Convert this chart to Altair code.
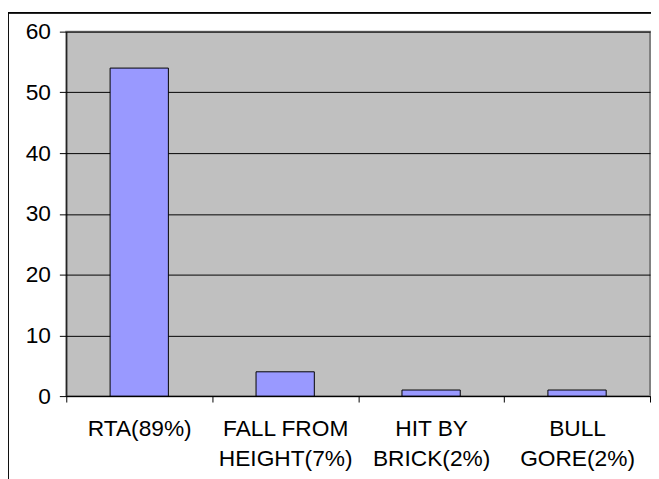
import altair as alt
import pandas as pd

categories = ["RTA(89%)", "FALL FROM|HEIGHT(7%)", "HIT BY|BRICK(2%)", "BULL|GORE(2%)"]
values = [54, 4, 1, 1]
y_ticks = [0, 10, 20, 30, 40, 50, 60]

df = pd.DataFrame({"cat": categories, "val": values})

FONT = "Liberation Sans"

bars = alt.Chart(df).mark_bar(
    size=59, fill="#9999FF", stroke="black", strokeWidth=1
).encode(
    x=alt.X("cat:N", sort=categories,
            scale=alt.Scale(paddingInner=0, paddingOuter=0),
            axis=alt.Axis(title=None, labelAngle=0, tickBand="extent",
                          labelExpr="split(datum.label, '|')",
                          labelFont=FONT, labelFontSize=23, labelColor="black",
                          labelLineHeight=30, labelPadding=16, labelBaseline="top",
                          domainColor="black", tickColor="black", tickSize=6,
                          grid=False)),
    y=alt.Y("val:Q", scale=alt.Scale(domain=[0, 60], nice=False),
            axis=alt.Axis(title=None, values=y_ticks, grid=True, gridColor="black",
                          gridWidth=1, gridOpacity=1,
                          labelFont=FONT, labelFontSize=23, labelColor="black",
                          labelPadding=9, domainColor="black", tickColor="black",
                          tickSize=7)),
)

frame = alt.Chart(df).mark_rect(fill=None, stroke="black", strokeWidth=1).encode(
    x=alt.value(-59), x2=alt.value(700), y=alt.value(-19), y2=alt.value(520)
)

chart = alt.layer(frame, bars).properties(
    width=591, height=369,
    autosize=alt.AutoSizeParams(type="none"),
    padding={"left": 59, "top": 21, "right": 1, "bottom": 81},
    background="white",
).configure_view(
    fill="#C0C0C0", stroke="#808080", strokeWidth=2
)

chart.save("out.html", embed_options={"renderer": "svg", "actions": False})
